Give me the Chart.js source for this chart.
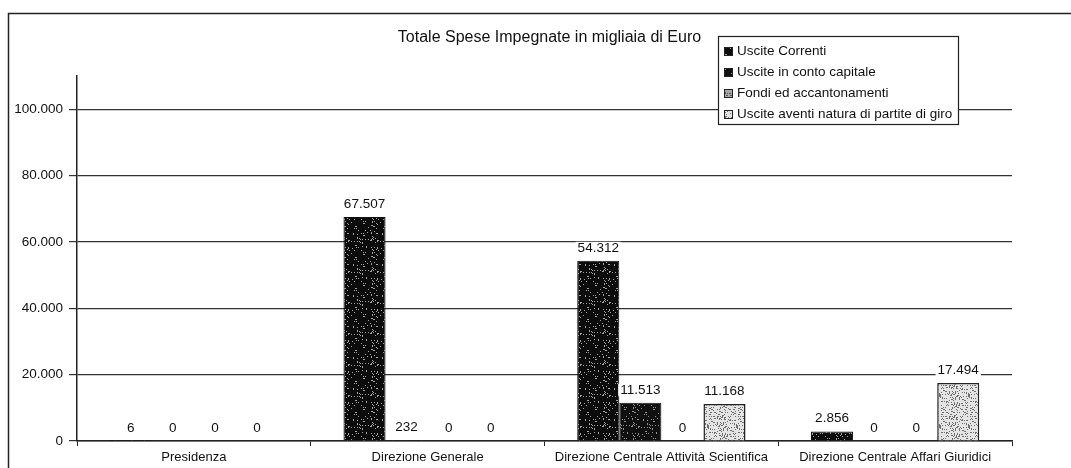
<!DOCTYPE html>
<html>
<head>
<meta charset="utf-8">
<script src="https://cdn.jsdelivr.net/npm/chart.js@4/dist/chart.umd.min.js"></script>
<style>
  body { margin: 0; background: #fff; }
  #wrap { width: 1071px; height: 468px; position: relative; }
</style>
</head>
<body>
<div id="wrap"><canvas id="spese"></canvas></div>
<script>
// dati (migliaia di euro)
const categorie = [
  "Presidenza",
  "Direzione Generale",
  "Direzione Centrale Attività Scientifica",
  "Direzione Centrale Affari Giuridici"
];
const usciteCorrenti = [6, 67507, 54312, 2856];
const usciteContoCapitale = [0, 232, 11513, 0];
const fondiAccantonamenti = [0, 0, 0, 0];
const partiteDiGiro = [0, 0, 11168, 17494];
const tickY = [0, 20000, 40000, 60000, 80000, 100000];
const titolo = "Totale Spese Impegnate in migliaia di Euro";

const font = "'Liberation Sans', Arial, sans-serif";

function fmt(n) {
  return String(n).replace(/\B(?=(\d{3})+(?!\d))/g, ".");
}

// texture a puntini come nella stampa scansionata
function puntini(base, dot, dens) {
  const c = document.createElement("canvas");
  c.width = 29; c.height = 31;
  const g = c.getContext("2d");
  g.fillStyle = base;
  g.fillRect(0, 0, 29, 31);
  g.fillStyle = dot;
  for (let i = 0; i < 29; i++) {
    for (let j = 0; j < 31; j++) {
      if (((i * i * 7 + j * j * 13 + i * j * 5 + i * 3 + j * 11) % 31) < dens) g.fillRect(i, j, 1, 1);
    }
  }
  return g.createPattern(c, "repeat");
}

const ctx0 = document.getElementById("spese").getContext("2d");
const scuro1 = puntini("#0c0c0c", "#a0a0a0", 3);
const scuro2 = puntini("#101010", "#909090", 3);
const medio = puntini("#a8a8a8", "#555", 6);
const chiaro = puntini("#e4e4e4", "#707070", 7);

const cornice = {
  id: "cornice",
  beforeDraw(chart) {
    const c = chart.ctx;
    c.save();
    c.fillStyle = "#fff";
    c.fillRect(0, 0, chart.width, chart.height);
    c.strokeStyle = "#222";
    c.lineWidth = 1.5;
    c.strokeRect(8.5, 13.5, 1080, 480);
    c.restore();
  },
  afterDraw(chart) {
    const c = chart.ctx;
    const a = chart.chartArea;
    c.save();
    // titolo
    c.fillStyle = "#111";
    c.font = "16px " + font;
    c.textAlign = "center";
    c.textBaseline = "alphabetic";
    c.fillText(titolo, (a.left + a.right) / 2 + 5, 42);

    // etichette dei valori
    c.textBaseline = "middle";
    c.font = "13.5px " + font;
    chart.data.datasets.forEach((ds, i) => {
      chart.getDatasetMeta(i).data.forEach((bar, k) => {
        const txt = fmt(ds.data[k]);
        const y = bar.y - 13;
        const w = c.measureText(txt).width;
        c.fillStyle = "#fff";
        c.fillRect(bar.x - w / 2 - 2, y - 6, w + 4, 12);
        c.fillStyle = "#111";
        c.fillText(txt, bar.x, y);
      });
    });

    // legenda
    const lx = 718, ly = 36, lw = 240, lh = 88;
    c.fillStyle = "#fff";
    c.fillRect(lx, ly, lw, lh);
    c.strokeStyle = "#222";
    c.lineWidth = 1.2;
    c.strokeRect(lx + 0.5, ly + 0.5, lw, lh);
    c.font = "13.5px " + font;
    c.textAlign = "left";
    chart.data.datasets.forEach((ds, i) => {
      const y = ly + 15 + i * 21;
      c.fillStyle = ds.backgroundColor;
      c.fillRect(lx + 6, y - 4, 9, 9);
      c.strokeStyle = "#222";
      c.lineWidth = 1;
      c.strokeRect(lx + 6.5, y - 3.5, 8, 8);
      c.fillStyle = "#111";
      c.fillText(ds.label, lx + 19, y);
    });
    c.restore();
  }
};

new Chart(ctx0, {
  type: "bar",
  data: {
    labels: categorie,
    datasets: [
      { label: "Uscite Correnti", data: usciteCorrenti, backgroundColor: scuro1, borderColor: "#111", borderWidth: 1 },
      { label: "Uscite in conto capitale", data: usciteContoCapitale, backgroundColor: scuro2, borderColor: "#111", borderWidth: 1 },
      { label: "Fondi ed accantonamenti", data: fondiAccantonamenti, backgroundColor: medio, borderColor: "#222", borderWidth: 1 },
      { label: "Uscite aventi natura di partite di giro", data: partiteDiGiro, backgroundColor: chiaro, borderColor: "#222", borderWidth: 1.5 }
    ]
  },
  options: {
    responsive: true,
    maintainAspectRatio: false,
    animation: false,
    events: [],
    categoryPercentage: 0.72,
    barPercentage: 1.0,
    layout: { padding: { left: 8, top: 76, right: 59, bottom: 0 } },
    plugins: {
      legend: { display: false },
      title: { display: false },
      tooltip: { enabled: false }
    },
    scales: {
      x: {
        afterFit(s) { s.height = 27; },
        grid: { display: true, drawOnChartArea: false, drawTicks: true, tickLength: 5, color: "#222", lineWidth: 1 },
        border: { display: true, color: "#222", width: 1.5 },
        ticks: { color: "#111", font: { family: font, size: 13 }, padding: 4, maxRotation: 0, autoSkip: false }
      },
      y: {
        min: 0,
        max: 110000,
        afterFit(s) { s.width = 69; },
        afterBuildTicks(s) { s.ticks = tickY.map(v => ({ value: v })); },
        grid: { color: "#333", lineWidth: 1.2, tickLength: 8 },
        border: { display: true, color: "#222", width: 1.5 },
        ticks: { color: "#111", font: { family: font, size: 13.5 }, padding: 6, callback: v => fmt(v) }
      }
    }
  },
  plugins: [cornice]
});
</script>
</body>
</html>
